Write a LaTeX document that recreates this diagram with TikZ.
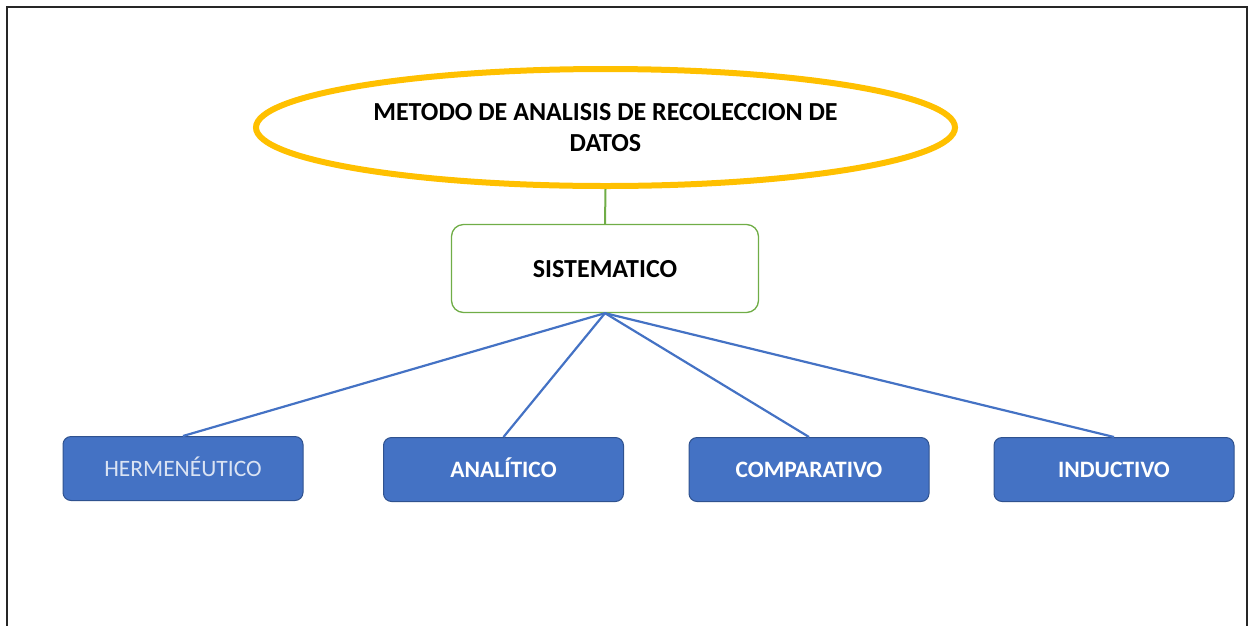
\documentclass[tikz,border=0pt]{standalone}
\usepackage{fontspec}
\setmainfont{Carlito}
\usetikzlibrary{shapes.geometric}
\definecolor{gold}{HTML}{FFC000}
\definecolor{leaf}{HTML}{70AD47}
\definecolor{accent}{HTML}{4472C4}
\definecolor{accentdark}{HTML}{2F528F}
\definecolor{palebluetext}{HTML}{DAE3F3}
\tikzset{
  frame/.style={draw=black!85, line width=2pt},
  titleoval/.style={ellipse, draw=gold, line width=6pt, minimum width=699pt, minimum height=117pt, inner sep=0pt, align=center, font=\fontsize{26}{31}\selectfont\bfseries},
  greenbox/.style={draw=leaf, line width=1.3pt, rounded corners=12pt, minimum width=307pt, minimum height=88pt, inner sep=0pt, text height=17pt, text depth=0pt, font=\fontsize{26}{30}\selectfont\bfseries},
  bluebox/.style={draw=accentdark, line width=1pt, fill=accent, rounded corners=8pt, minimum width=240pt, minimum height=64pt, inner sep=0pt, text height=15pt, text depth=0pt, text=white, font=\fontsize{23.5}{28}\selectfont\bfseries},
  greenlink/.style={draw=leaf, line width=2pt},
  bluelink/.style={draw=accent, line width=2.2pt}
}
\begin{document}
\begin{tikzpicture}[x=1pt,y=-1pt]
\useasboundingbox (0,0) rectangle (1254,625);
\draw[frame] (7,7) rectangle (1247,640);
\node[titleoval] (title) at (605.5,127.5) {METODO DE ANALISIS DE RECOLECCION DE\\DATOS};
\node[greenbox] (sis) at (605,268.5) {SISTEMATICO};
\node[bluebox, font=\fontsize{23.5}{28}\selectfont, text=palebluetext] (her) at (183,468.5) {HERMENÉUTICO};
\node[bluebox] (ana) at (503.5,469.5) {ANALÍTICO};
\node[bluebox] (com) at (809,469.5) {COMPARATIVO};
\node[bluebox] (ind) at (1114,469.5) {INDUCTIVO};
\draw[greenlink] (title.south) -- (sis.north);
\draw[bluelink] (sis.south) -- (her.north);
\draw[bluelink] (sis.south) -- (ana.north);
\draw[bluelink] (sis.south) -- (com.north);
\draw[bluelink] (sis.south) -- (ind.north);
\end{tikzpicture}
\end{document}
